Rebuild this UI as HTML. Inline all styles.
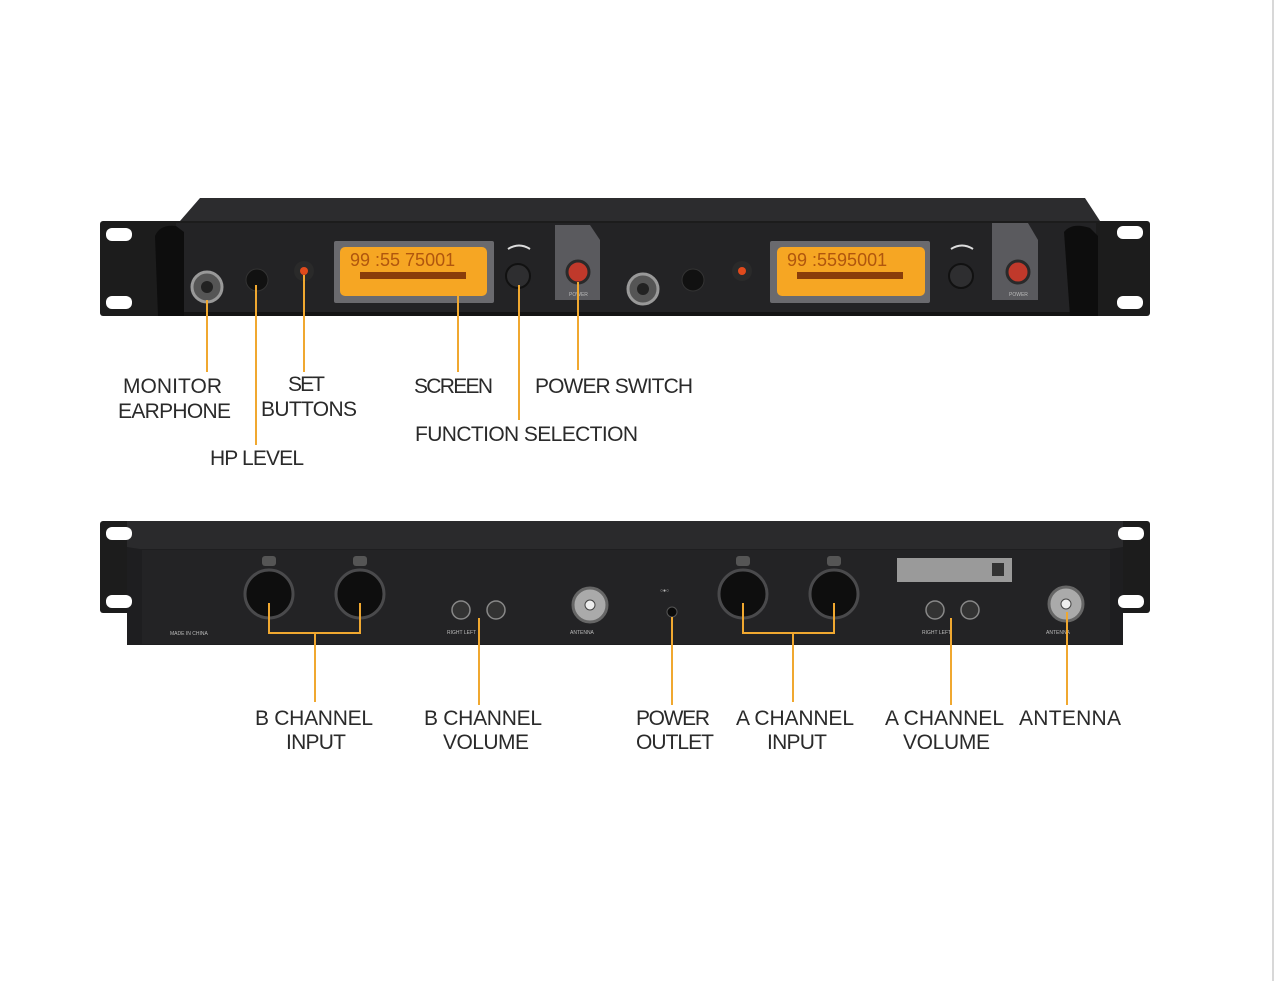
<!DOCTYPE html>
<html><head><meta charset="utf-8"><style>
html,body{margin:0;padding:0;background:#fff;width:1284px;height:981px;overflow:hidden}
text{font-family:"Liberation Sans",sans-serif;fill:#2a2a2a;font-size:21px}
.s{font-size:5px;fill:#bbb}
</style></head><body>
<svg width="1284" height="981" viewBox="0 0 1284 981" xmlns="http://www.w3.org/2000/svg">
<rect width="1284" height="981" fill="#fff"/>
<line x1="1273" y1="0" x2="1273" y2="981" stroke="#d8d8d8" stroke-width="2"/>

<!-- FRONT UNIT -->
<rect x="100" y="221" width="1050" height="95" rx="3" fill="#1c1c1c"/>
<path d="M180 221 L200 198 L1085 198 L1100 221 Z" fill="#2c2c2e"/>
<rect x="176" y="223" width="920" height="93" fill="#232325"/>
<rect x="176" y="312" width="920" height="4" fill="#141414"/>
<rect x="106" y="228" width="26" height="13" rx="6" fill="#fff"/>
<rect x="106" y="296" width="26" height="13" rx="6" fill="#fff"/>
<rect x="1117" y="226" width="26" height="13" rx="6" fill="#fff"/>
<rect x="1117" y="296" width="26" height="13" rx="6" fill="#fff"/>
<path d="M155 236 Q160 224 176 226 L184 232 L184 316 L158 316 Z" fill="#0d0d0d"/>
<path d="M1064 232 Q1072 222 1090 228 L1098 236 L1098 316 L1070 316 Z" fill="#0d0d0d"/>
<path d="M555 225 L590 225 L600 240 L600 300 L555 300 Z" fill="#5a5a5e"/>
<path d="M992 223 L1028 223 L1038 240 L1038 300 L992 300 Z" fill="#5a5a5e"/>
<rect x="334" y="241" width="160" height="62" rx="2" fill="#6a6a6e"/>
<rect x="340" y="247" width="147" height="49" rx="5" fill="#f6a623"/>
<rect x="770" y="241" width="160" height="62" rx="2" fill="#6a6a6e"/>
<rect x="777" y="247" width="148" height="49" rx="5" fill="#f6a623"/>
<g fill="#8a3d0a">
<rect x="360" y="272" width="106" height="7"/><rect x="797" y="272" width="106" height="7"/>
</g>
<text x="350" y="266" style="font-size:18px;fill:#b0560e">99 :55 75001</text>
<text x="787" y="266" style="font-size:18px;fill:#b0560e">99 :5595001</text>
<circle cx="518" cy="276" r="12" fill="#2e2e30" stroke="#111" stroke-width="2"/>
<circle cx="961" cy="276" r="12" fill="#2e2e30" stroke="#111" stroke-width="2"/>
<path d="M508 249 Q519 242 530 249" stroke="#ddd" fill="none" stroke-width="2"/>
<path d="M951 249 Q962 242 973 249" stroke="#ddd" fill="none" stroke-width="2"/>
<circle cx="578" cy="272" r="11" fill="#c0392b" stroke="#2a2a2a" stroke-width="3"/>
<circle cx="1018" cy="272" r="11" fill="#c0392b" stroke="#2a2a2a" stroke-width="3"/>
<text x="569" y="296" class="s">POWER</text><text x="1009" y="296" class="s">POWER</text>
<circle cx="207" cy="287" r="15" fill="#555" stroke="#999" stroke-width="3"/>
<circle cx="207" cy="287" r="6" fill="#222"/>
<circle cx="643" cy="289" r="15" fill="#555" stroke="#999" stroke-width="3"/>
<circle cx="643" cy="289" r="6" fill="#222"/>
<circle cx="257" cy="280" r="11" fill="#111" stroke="#333"/>
<circle cx="693" cy="280" r="11" fill="#111" stroke="#333"/>
<circle cx="304" cy="271" r="10" fill="#2a2a2a"/><circle cx="304" cy="271" r="4" fill="#e04a1c"/>
<circle cx="742" cy="271" r="10" fill="#2a2a2a"/><circle cx="742" cy="271" r="4" fill="#e04a1c"/>

<g stroke="#f0a830" stroke-width="2">
<line x1="207" y1="300" x2="207" y2="372"/>
<line x1="256" y1="285" x2="256" y2="445"/>
<line x1="304" y1="275" x2="304" y2="372"/>
<line x1="458" y1="296" x2="458" y2="372"/>
<line x1="519" y1="285" x2="519" y2="420"/>
<line x1="578" y1="282" x2="578" y2="370"/>
</g>
<text x="123" y="393" textLength="99">MONITOR</text>
<text x="118" y="418" textLength="113">EARPHONE</text>
<text x="288" y="391" textLength="37">SET</text>
<text x="261" y="416" textLength="96">BUTTONS</text>
<text x="210" y="465" textLength="94">HP LEVEL</text>
<text x="414" y="393" textLength="79">SCREEN</text>
<text x="535" y="393" textLength="158">POWER SWITCH</text>
<text x="415" y="441" textLength="223">FUNCTION SELECTION</text>

<!-- REAR UNIT -->
<rect x="100" y="521" width="1050" height="92" rx="3" fill="#1c1c1c"/>
<rect x="127" y="521" width="996" height="124" fill="#1e1e20"/>
<path d="M127 521 L1123 521 L1123 547 L1110 549 L140 549 L127 547 Z" fill="#2a2a2c"/>
<rect x="142" y="550" width="968" height="94" fill="#232325"/>
<rect x="106" y="527" width="26" height="13" rx="6" fill="#fff"/>
<rect x="106" y="595" width="26" height="13" rx="6" fill="#fff"/>
<rect x="1118" y="527" width="26" height="13" rx="6" fill="#fff"/>
<rect x="1118" y="595" width="26" height="13" rx="6" fill="#fff"/>
<g fill="#0e0e0e" stroke="#4a4a4c" stroke-width="3">
<circle cx="269" cy="594" r="24"/><circle cx="360" cy="594" r="24"/>
<circle cx="743" cy="594" r="24"/><circle cx="834" cy="594" r="24"/>
</g>
<g fill="#555">
<rect x="262" y="556" width="14" height="10" rx="3"/><rect x="353" y="556" width="14" height="10" rx="3"/>
<rect x="736" y="556" width="14" height="10" rx="3"/><rect x="827" y="556" width="14" height="10" rx="3"/>
</g>
<text x="170" y="635" class="s">MADE IN CHINA</text>
<g fill="#333" stroke="#888" stroke-width="1.5">
<circle cx="461" cy="610" r="9"/><circle cx="496" cy="610" r="9"/>
<circle cx="935" cy="610" r="9"/><circle cx="970" cy="610" r="9"/>
</g>
<text x="447" y="634" class="s">RIGHT   LEFT</text><text x="922" y="634" class="s">RIGHT   LEFT</text>
<circle cx="590" cy="605" r="17" fill="#aaa" stroke="#666" stroke-width="3"/>
<circle cx="590" cy="605" r="5" fill="#eee" stroke="#444"/>
<circle cx="1066" cy="604" r="17" fill="#aaa" stroke="#666" stroke-width="3"/>
<circle cx="1066" cy="604" r="5" fill="#eee" stroke="#444"/>
<text x="570" y="634" class="s">ANTENNA</text><text x="1046" y="634" class="s">ANTENNA</text>
<circle cx="672" cy="612" r="5" fill="#0a0a0a" stroke="#555"/>
<text x="660" y="592" class="s">○●○</text>
<rect x="897" y="558" width="115" height="24" fill="#9a9a9a"/>
<rect x="992" y="563" width="12" height="13" fill="#333"/>

<g stroke="#f0a830" stroke-width="2" fill="none">
<path d="M269 603 V633 H360 V603"/><line x1="315" y1="633" x2="315" y2="702"/>
<path d="M743 603 V633 H834 V603"/><line x1="793" y1="633" x2="793" y2="702"/>
<line x1="479" y1="618" x2="479" y2="705"/>
<line x1="672" y1="617" x2="672" y2="705"/>
<line x1="951" y1="618" x2="951" y2="705"/>
<line x1="1067" y1="612" x2="1067" y2="705"/>
</g>
<text x="255" y="725" textLength="118">B CHANNEL</text>
<text x="286" y="749" textLength="60">INPUT</text>
<text x="424" y="725" textLength="118">B CHANNEL</text>
<text x="443" y="749" textLength="86">VOLUME</text>
<text x="636" y="725" textLength="74">POWER</text>
<text x="636" y="749" textLength="78">OUTLET</text>
<text x="736" y="725" textLength="118">A CHANNEL</text>
<text x="767" y="749" textLength="60">INPUT</text>
<text x="885" y="725" textLength="119">A CHANNEL</text>
<text x="903" y="749" textLength="87">VOLUME</text>
<text x="1019" y="725" textLength="102">ANTENNA</text>
</svg>
</body></html>
